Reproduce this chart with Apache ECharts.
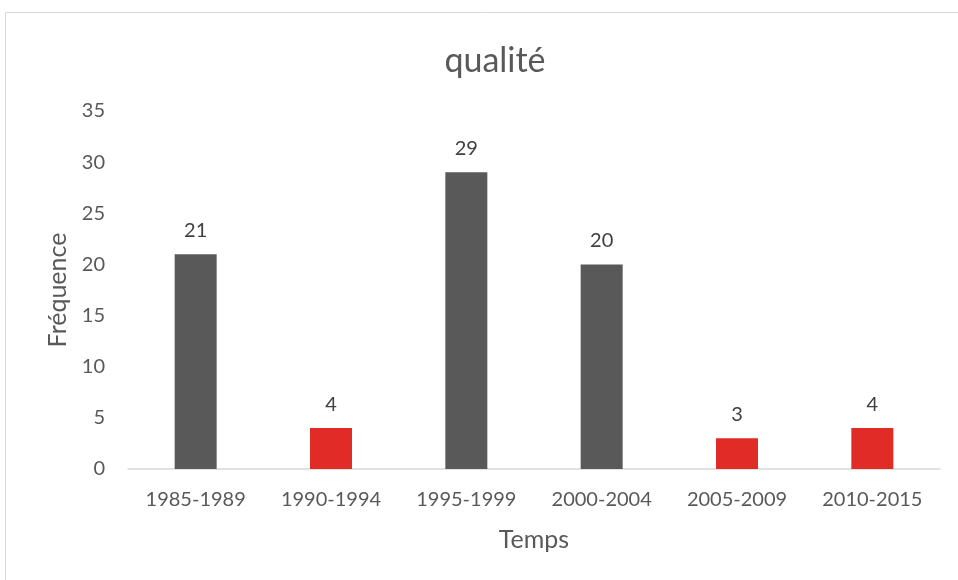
<!DOCTYPE html>
<html><head><meta charset="utf-8">
<script src="https://cdn.jsdelivr.net/npm/echarts@6/dist/echarts.min.js"></script>
<style>html,body{margin:0;padding:0;background:#fff}#c{width:958px;height:580px}</style>
</head><body><div id="c"></div>
<script>
const categories = ['1985-1989','1990-1994','1995-1999','2000-2004','2005-2009','2010-2015'];
const values = [21, 4, 29, 20, 3, 4];
const highlight = [false, true, false, false, true, true];
const yTicks = [0, 5, 10, 15, 20, 25, 30, 35];

const GRAY = '#595959', RED = '#E02B26', FONT = 'Lato';
const chart = echarts.init(document.getElementById('c'));
chart.setOption({
  animation: false,
  textStyle: { fontFamily: FONT },
  graphic: [{ type: 'rect', shape: { x: 5.5, y: 12.5, width: 1000, height: 1000 },
    style: { fill: 'none', stroke: '#d9d9d9', lineWidth: 1 }, silent: true }],
  title: { text: 'qualité', left: 490, top: 39, textAlign: 'center',
    textStyle: { fontFamily: FONT, fontSize: 34, fontWeight: 'normal', color: GRAY } },
  grid: { left: 128, right: 18, top: 111, bottom: 111 },
  xAxis: { type: 'category', data: categories,
    name: 'Temps', nameLocation: 'middle', nameGap: 58,
    nameTextStyle: { fontFamily: FONT, fontSize: 25, color: GRAY },
    axisLine: { lineStyle: { color: '#d9d9d9', width: 1.5 } }, axisTick: { show: false },
    axisLabel: { fontFamily: FONT, fontSize: 20, color: GRAY, margin: 21 } },
  yAxis: { type: 'value', min: yTicks[0], max: yTicks[yTicks.length-1], interval: 5,
    name: 'Fréquence', nameLocation: 'middle', nameGap: 54, nameRotate: 90,
    nameTextStyle: { fontFamily: FONT, fontSize: 25, color: GRAY },
    splitLine: { show: false }, axisLine: { show: false }, axisTick: { show: false },
    axisLabel: { fontFamily: FONT, fontSize: 20, color: GRAY, margin: 23 } },
  series: [{ type: 'bar', barWidth: 42,
    data: values.map((v, i) => ({ value: v, itemStyle: { color: highlight[i] ? RED : GRAY } })),
    label: { show: true, position: 'top', distance: 14, fontFamily: FONT, fontSize: 20, color: '#404040' } }]
});
</script></body></html>
